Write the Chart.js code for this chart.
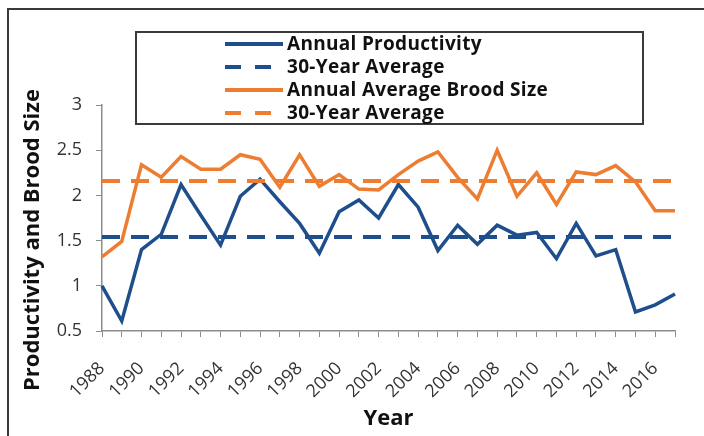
<!DOCTYPE html>
<html>
<head>
<meta charset="utf-8">
<script src="https://cdn.jsdelivr.net/npm/chart.js@4"></script>
<style>
  html, body { margin: 0; padding: 0; background: #fff; }
  #wrap { position: relative; width: 704px; height: 436px; overflow: hidden; font-family: 'Open Sans', sans-serif; }
  #chart { position: absolute; left: 0; top: 0; }
  .frame { position: absolute; left: 7px; top: 8px; width: 760px; height: 480px; border: 2px solid #3a3a3a; pointer-events: none; }
  .legend { position: absolute; left: 135px; top: 31px; width: 505px; height: 90px; border: 2px solid #3a3a3a; background: #fff; }
  .legend .row { position: absolute; left: 0; height: 23px; }
  .legend svg { position: absolute; left: 88px; top: 9px; }
  .legend span { position: absolute; left: 150px; top: 0; white-space: nowrap; font-weight: 700; font-size: 19px; letter-spacing: 0.3px; color: #111; line-height: 23px; }
  .ytitle { position: absolute; left: 30px; top: 240px; transform: translate(-50%, -50%) rotate(-90deg); white-space: nowrap; font-weight: 700; font-size: 22px; color: #111; }
</style>
</head>
<body>
<div id="wrap">
  <canvas id="chart" width="704" height="436"></canvas>
  <div class="frame"></div>
  <div class="legend" id="legend"></div>
  <div class="ytitle">Productivity and Brood Size</div>
</div>
<script>
const years = ['1988', '1989', '1990', '1991', '1992', '1993', '1994', '1995', '1996', '1997',
  '1998', '1999', '2000', '2001', '2002', '2003', '2004', '2005', '2006', '2007',
  '2008', '2009', '2010', '2011', '2012', '2013', '2014', '2015', '2016', '2017'];

const productivity = [1.00, 0.61, 1.40, 1.57, 2.12, 1.78, 1.45, 1.99, 2.18, 1.93,
  1.69, 1.36, 1.82, 1.95, 1.75, 2.12, 1.87, 1.39, 1.67, 1.46,
  1.67, 1.56, 1.59, 1.30, 1.69, 1.33, 1.40, 0.71, 0.79, 0.91];

const broodSize = [1.32, 1.49, 2.34, 2.20, 2.43, 2.29, 2.29, 2.45, 2.40, 2.09,
  2.45, 2.10, 2.23, 2.07, 2.06, 2.23, 2.38, 2.48, 2.20, 1.96,
  2.50, 1.99, 2.25, 1.90, 2.26, 2.23, 2.33, 2.15, 1.83, 1.83];

const productivityAvg = 1.54;
const broodAvg = 2.16;

const yTicks = [0.5, 1, 1.5, 2, 2.5, 3];

const BLUE = '#1f4e8c';
const ORANGE = '#ed7d31';
const AXIS = '#8c8c8c';

Chart.defaults.font.family = "'Open Sans', sans-serif";

// legend drawn as html so each entry gets its own row like the original
const htmlLegend = {
  id: 'htmlLegend',
  afterUpdate(chart) {
    const box = document.getElementById('legend');
    box.innerHTML = '';
    chart.data.datasets.forEach((ds, i) => {
      const row = document.createElement('div');
      row.className = 'row';
      row.style.top = (i * 23 - 1) + 'px';
      const dash = ds.borderDash && ds.borderDash.length ? 'stroke-dasharray="16 14"' : '';
      row.innerHTML = `<svg width="58" height="6"><line x1="0" y1="3" x2="58" y2="3" stroke="${ds.borderColor}" stroke-width="4" ${dash}/></svg><span>${ds.label}</span>`;
      box.appendChild(row);
    });
  }
};

const line = (label, data, color, dashed, order) => ({
  label,
  data,
  borderColor: color,
  backgroundColor: color,
  borderWidth: dashed ? 4 : 3.5,
  borderDash: dashed ? [18, 11] : [],
  pointRadius: 0,
  tension: 0,
  fill: false,
  order,
});

new Chart(document.getElementById('chart'), {
  type: 'line',
  data: {
    labels: years,
    datasets: [
      line('Annual Productivity', productivity, BLUE, false, 4),
      line('30-Year Average', years.map(() => productivityAvg), BLUE, true, 3),
      line('Annual Average Brood Size', broodSize, ORANGE, false, 2),
      line('30-Year Average', years.map(() => broodAvg), ORANGE, true, 1),
    ],
  },
  options: {
    responsive: false,
    animation: false,
    devicePixelRatio: 1,
    layout: { padding: { left: 0, top: 105, right: 29, bottom: 0 } },
    plugins: {
      legend: { display: false },
      tooltip: { enabled: false },
    },
    scales: {
      x: {
        offset: false,
        afterFit: scale => {
          scale.height = 105;
          scale.paddingLeft = 0;
          scale.paddingRight = 0;
        },
        grid: { drawOnChartArea: false, drawTicks: true, tickLength: 6, color: AXIS },
        border: { color: AXIS, width: 1.5 },
        ticks: {
          autoSkip: false,
          maxRotation: 45,
          minRotation: 45,
          padding: 21,
          color: '#333',
          font: { size: 18 },
          callback: (value, index) => index % 2 === 0 ? years[index] : '',
        },
        title: {
          display: true,
          text: 'Year',
          color: '#111',
          font: { size: 22, weight: 'bold' },
          padding: { top: 0, bottom: 4 },
        },
      },
      y: {
        min: 0.5,
        max: 3,
        afterFit: scale => { scale.width = 102; },
        afterBuildTicks: scale => { scale.ticks = yTicks.map(value => ({ value })); },
        grid: { drawOnChartArea: false, drawTicks: true, tickLength: 6, color: AXIS },
        border: { color: AXIS, width: 1.5 },
        ticks: {
          padding: 14,
          color: '#333',
          font: { size: 18 },
          callback: value => String(value),
        },
      },
    },
  },
  plugins: [htmlLegend],
});
</script>
</body>
</html>
